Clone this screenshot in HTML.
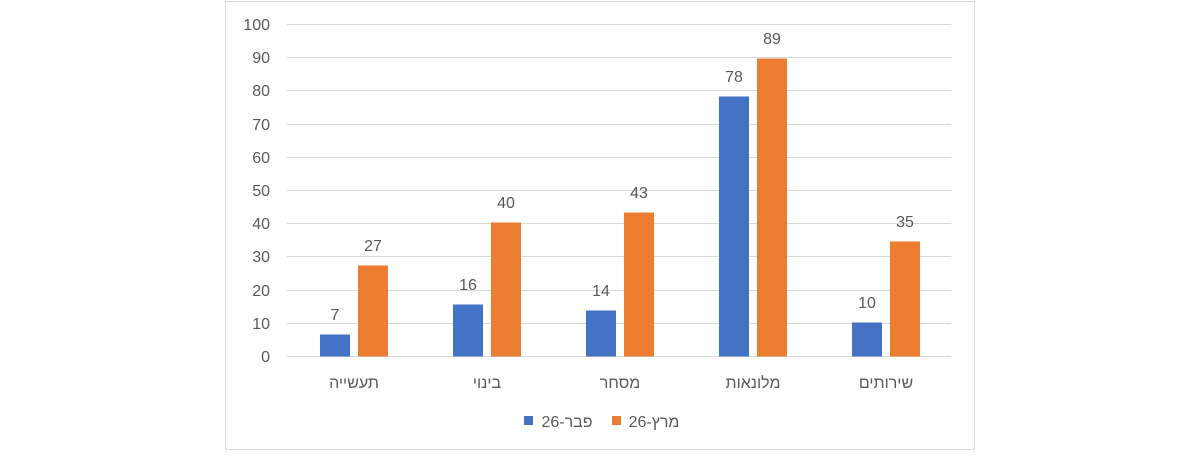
<!DOCTYPE html><html><head><meta charset="utf-8"><style>body{margin:0;background:#fff}</style></head><body>
<svg width="1200" height="452" xmlns="http://www.w3.org/2000/svg" font-family="Liberation Sans, DejaVu Sans, sans-serif" fill="#595959">
<rect x="225.5" y="1.5" width="749" height="448" fill="#fff" stroke="#d9d9d9" stroke-width="1"/>
<g stroke="#d9d9d9" stroke-width="1">
<line x1="287" x2="951" y1="24.5" y2="24.5"/><line x1="287" x2="951" y1="57.5" y2="57.5"/><line x1="287" x2="951" y1="90.5" y2="90.5"/><line x1="287" x2="951" y1="124.5" y2="124.5"/><line x1="287" x2="951" y1="157.5" y2="157.5"/><line x1="287" x2="951" y1="190.5" y2="190.5"/><line x1="287" x2="951" y1="223.5" y2="223.5"/><line x1="287" x2="951" y1="256.5" y2="256.5"/><line x1="287" x2="951" y1="290.5" y2="290.5"/><line x1="287" x2="951" y1="323.5" y2="323.5"/><line x1="287" x2="951" y1="356.5" y2="356.5"/>
</g>
<g font-size="16" text-anchor="end">
<text x="270" y="30">100</text><text x="270" y="63">90</text><text x="270" y="96">80</text><text x="270" y="130">70</text><text x="270" y="163">60</text><text x="270" y="196">50</text><text x="270" y="229">40</text><text x="270" y="262">30</text><text x="270" y="296">20</text><text x="270" y="329">10</text><text x="270" y="362">0</text>
</g>
<g fill="#4472c4">
<rect x="320" y="334.5" width="30" height="22"/>
<rect x="453" y="304.5" width="30" height="52"/>
<rect x="586" y="310.5" width="30" height="46"/>
<rect x="719" y="96.5" width="30" height="260"/>
<rect x="852" y="322.5" width="30" height="34"/>
</g>
<g fill="#ed7d31">
<rect x="358" y="265.5" width="30" height="91"/>
<rect x="491" y="222.5" width="30" height="134"/>
<rect x="624" y="212.5" width="30" height="144"/>
<rect x="757" y="58.5" width="30" height="298"/>
<rect x="890" y="241.5" width="30" height="115"/>
</g>
<g font-size="16" text-anchor="middle">
<text x="335" y="320">7</text><text x="373" y="251">27</text>
<text x="468" y="290">16</text><text x="506" y="208">40</text>
<text x="601" y="296">14</text><text x="639" y="198">43</text>
<text x="734" y="82">78</text><text x="772" y="44">89</text>
<text x="867" y="308">10</text><text x="905" y="227">35</text>
</g>
<g font-size="16" text-anchor="middle" font-family="Liberation Sans, DejaVu Sans, sans-serif">
<text x="354" y="388">תעשייה</text><text x="487" y="388">בינוי</text><text x="620" y="388">מסחר</text><text x="753" y="388">מלונאות</text><text x="886" y="388">שירותים</text>
</g>
<rect x="524" y="416" width="9" height="9" fill="#4472c4"/>
<text x="567" y="427" font-size="16" text-anchor="middle">פבר-26</text>
<rect x="612" y="416" width="9" height="9" fill="#ed7d31"/>
<text x="654" y="427" font-size="16" text-anchor="middle">מרץ-26</text>
</svg>
</body></html>
